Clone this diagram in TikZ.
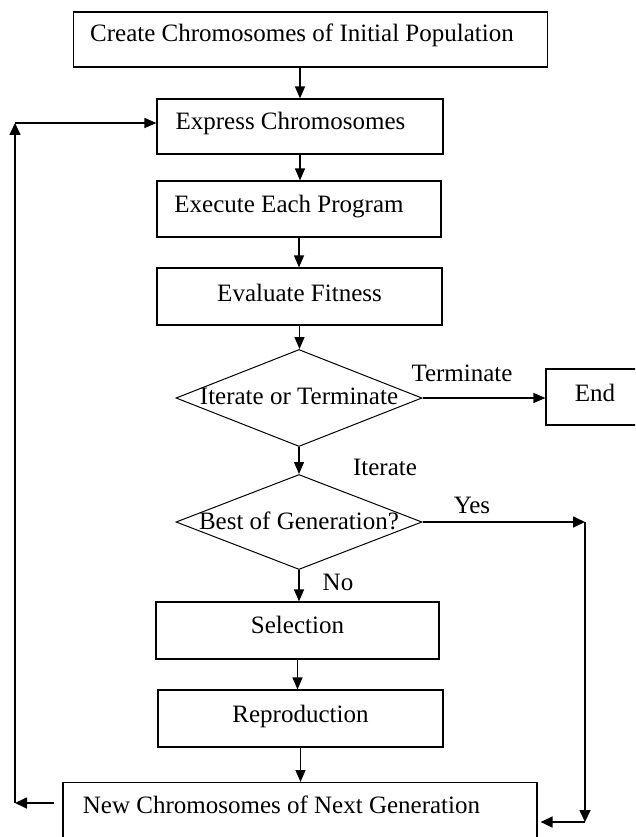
\documentclass[tikz,border=0pt]{standalone}
\usepackage{fontspec}
\setmainfont{Liberation Serif}
\usetikzlibrary{shapes.geometric,arrows.meta}

\tikzset{
  flowbox/.style={draw, line width=1.2pt, inner sep=0pt},
  lifted/.style={text height=18pt, text depth=#1},
  decide/.style={draw, diamond, line width=1pt, inner sep=0pt,
    minimum width=246pt},
  flowarr/.style={line width=1.3pt, -{Triangle[length=12pt,width=10pt]}},
  looparr/.style={line width=1.7pt, -{Triangle[length=12pt,width=11pt]}},
}

\begin{document}
\begin{tikzpicture}[x=1pt,y=-1pt,
  every node/.style={font=\fontsize{25}{30}\selectfont}]

% Page frame
\useasboundingbox (0,0) rectangle (635,837);
\clip (0,0) rectangle (635,837);

% Boxes
\node[flowbox, lifted=13.5pt, minimum width=474pt, minimum height=55pt] (create) at (310.5,39.5) {Create Chromosomes of Initial Population\hspace*{17pt}};
\node[flowbox, lifted=12.5pt, minimum width=286pt, minimum height=55pt] (express) at (300,126.5) {Express Chromosomes\hspace*{19pt}};
\node[flowbox, lifted=11.5pt, minimum width=284pt, minimum height=56pt] (execute) at (299,209) {Execute Each Program\hspace*{20pt}};
\node[flowbox, lifted=7.5pt, minimum width=285pt, minimum height=57pt] (evaluate) at (299.5,296.5) {Evaluate Fitness};

% Decisions
\node[decide, minimum height=97pt] (iterm) at (299,398) {\makebox[0pt]{\raisebox{3pt}{Iterate or Terminate}}};
\node[flowbox, lifted=9.5pt, minimum width=92pt, minimum height=56pt] (endbox) at (592,397) {\hspace*{6pt}End};
\node[decide, minimum height=95pt] (best) at (299,522) {\makebox[0pt]{\raisebox{3pt}{Best of Generation?}}};

\node[flowbox, lifted=11.5pt, minimum width=283pt, minimum height=57pt] (select) at (297.5,630.5) {Selection};
\node[flowbox, lifted=9.5pt, minimum width=285pt, minimum height=57pt] (reprod) at (300.5,718.5) {Reproduction};
\node[flowbox, minimum width=474pt, anchor=north, inner ysep=13pt,
  text height=18pt, text depth=50pt] (newgen) at (300,782) {New Chromosomes of Next Generation\hspace*{37pt}};

% Labels for branches
\node (termlbl) at (462,373) {Terminate};
\node (iterlbl) at (385,467) {Iterate};
\node (yeslbl) at (472,505) {Yes};
\node (nolbl) at (338,582) {No};

% Main flow
\draw[flowarr] (create.south -| express.north) -- (express.north);
\draw[flowarr] (express.south) -- (express.south |- execute.north);
\draw[flowarr] (execute.south) -- (execute.south |- evaluate.north);
\draw[flowarr] (evaluate.south) -- (evaluate.south |- iterm.north);
\draw[flowarr] (iterm.south) -- (best.north);
\draw[flowarr] (best.south) -- (best.south |- select.north);
\draw[flowarr] (select.south) -- (select.south |- reprod.north);
\draw[flowarr] (reprod.south) -- (reprod.south |- newgen.north);
\draw[flowarr] (iterm.east) -- (iterm.east -| endbox.west);

% Yes branch
\coordinate (rtop) at (585,522);
\coordinate (rbot) at (585,822);
\draw[looparr] (best.east) -- (rtop);
\draw[looparr] (rtop) -- (rbot);
\draw[looparr] (rbot) -- ([xshift=3pt]rbot -| newgen.east);

% Loop back
\coordinate (lbot) at (15,803);
\coordinate (ltop) at (15,123);
\draw[looparr] ([xshift=-8pt]lbot -| newgen.west) -- (lbot);
\draw[looparr] (lbot) -- (ltop);
\draw[flowarr] (ltop) -- (ltop -| express.west);

\end{tikzpicture}
\end{document}
